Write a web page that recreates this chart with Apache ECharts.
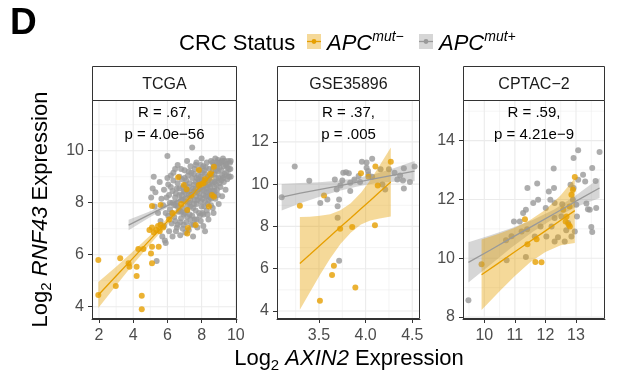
<!DOCTYPE html>
<html>
<head>
<meta charset="utf-8">
<script src="https://cdn.jsdelivr.net/npm/echarts@6/dist/echarts.min.js"></script>
<style>
html, body { margin: 0; padding: 0; background: #fff; }
#chart { width: 617px; height: 377px; }
</style>
</head>
<body>
<div id="chart"></div>
<script>
var panelNames = ["TCGA", "GSE35896", "CPTAC\u22122"];
var statR = ["R = .67,", "R = .37,", "R = .59,"];
var statP = ["p = 4.0e\u221256", "p = .005", "p = 4.21e\u22129"];

// breaks (major) and minor gridlines per panel
var tcgaXBreaks = [2, 4, 6, 8, 10], tcgaXMinor = [3, 5, 7, 9];
var tcgaYBreaks = [4, 6, 8, 10], tcgaYMinor = [5, 7, 9, 11];
var gseXBreaks = [3.5, 4.0, 4.5], gseXMinor = [3.25, 3.75, 4.25];
var gseYBreaks = [4, 6, 8, 10, 12], gseYMinor = [5, 7, 9, 11, 13];
var cptacXBreaks = [10, 11, 12, 13], cptacXMinor = [9.5, 10.5, 11.5, 12.5, 13.5];
var cptacYBreaks = [8, 10, 12, 14], cptacYMinor = [9, 11, 13, 15];

// APC mut- (orange) and APC mut+ (grey) points, [AXIN2, RNF43]
var tcgaNeg = [[1.96,5.8],[1.96,4.45],[3.24,5.86],[2.98,4.8],[3.73,5.67],[3.78,5.54],[4.2,5.54],[4.2,5.18],[4.3,6.22],[4.6,6.22],[4.5,4.42],[4.5,3.9],
  [5.04,6.05],[5.1,5.67],[5.1,6.31],[5.49,6.31],[4.95,6.95],[5.1,7.05],[5.2,6.85],[5.35,6.95],[5.45,7.1],[5.6,7.15],[5.55,6.9],[5.75,7.05],
  [5.1,7.87],[5.6,7.91],[6.63,8.98],[7.12,8.52],[6.96,8.68],[7.16,7.72],[8.43,7.85],[8.72,9.38],[8.72,8.23],[7.65,7.14],[7.16,6.82],
  [7.84,9.26],[7.84,8.68],[6.3,7.6],[6.8,7.95],[7.4,8.3],[7.95,8.7],[8.2,8.9],[6.1,7.35],[8.5,9.1],[8.1,8.75],[8.6,8.3],[7.2,7.03]];
var tcgaPos = [[5.05,8.2],[5.14,8.55],[5.2,9.0],[5.25,7.85],[5.3,8.4],[5.37,5.76],[5.45,7.6],
  [5.55,8.8],[5.6,7.3],[5.65,8.15],[5.7,6.7],[5.75,7.9],[5.8,8.5],[5.85,6.55],[5.9,6.45],[5.8,7.1],
  [6.0,9.8],[6.0,8.95],[6.05,7.5],[6.1,8.3],[6.1,6.9],[6.15,7.75],[6.2,9.05],[6.2,8.6],[6.25,7.2],[6.3,8.0],[6.3,6.7],[6.35,8.85],
  [6.4,7.45],[6.45,9.3],[6.45,8.2],[6.5,6.9],[6.5,7.9],[6.55,8.55],[6.6,7.15],[6.6,8.75],[6.65,7.65],[6.7,9.0],[6.7,8.3],[6.75,6.75],
  [6.8,7.4],[6.8,8.1],[6.85,8.9],[6.9,7.0],[6.9,7.8],[6.95,8.45],[7.0,9.25],[7.0,7.6],[7.05,8.7],[7.05,6.85],[7.1,8.2],[7.1,7.25],
  [7.2,9.05],[7.2,8.45],[7.2,7.9],[7.25,6.95],[7.3,8.75],[7.3,7.55],[7.35,9.4],[7.4,8.25],[7.4,7.15],[7.45,10.12],[7.45,8.95],[7.5,7.8],[7.5,8.55],[7.5,6.7],
  [7.6,9.3],[7.6,8.1],[7.6,7.35],[7.65,8.8],[7.7,9.55],[7.7,7.95],[7.75,8.4],[7.75,7.05],[7.8,9.05],[7.8,8.65],[7.85,7.6],
  [7.9,9.25],[7.9,8.2],[7.95,7.3],[8.0,9.7],[8.0,8.9],[8.0,7.85],[8.05,8.5],[8.1,9.4],[8.1,7.55],[8.15,8.75],[8.2,9.1],[8.2,8.05],[8.2,6.9],
  [8.3,9.55],[8.3,8.4],[8.3,7.7],[8.35,9.0],[8.4,8.85],[8.4,7.35],[8.45,9.3],[8.5,8.2],[8.5,8.6],[8.55,9.6],[8.55,7.9],
  [8.6,9.1],[8.65,8.45],[8.7,9.45],[8.7,7.6],[8.75,8.8],[8.8,9.7],[8.8,8.15],[8.85,9.25],[8.9,8.5],[8.9,9.55],
  [8.96,9.64],[9.0,8.95],[9.0,7.95],[9.05,9.35],[9.1,8.6],[9.15,9.55],[9.2,9.05],[9.2,8.25],[9.25,9.7],[9.3,8.8],
  [9.41,9.45],[9.4,8.5],[9.45,9.15],[9.5,8.9],[9.55,9.6],[9.6,9.3],[9.66,9.54],[9.7,9.0],[9.7,9.6],[9.68,9.3],
  [6.9,8.6],[7.3,8.0],[7.7,8.25],[8.1,8.3],[8.4,8.1],[7.45,7.5],[6.7,7.7],[7.9,8.55],[8.6,8.8],[8.25,8.65],[7.0,8.95],[6.55,8.0],
  [7.55,9.1],[8.05,7.6],[8.75,9.1],[7.65,7.7],[7.15,8.5],
  [7.25,8.6],[7.35,8.1],[7.55,8.45],[7.7,8.95],[7.85,8.35],[7.95,9.0],[8.05,8.15],[8.15,9.25],[8.25,8.85],[8.35,8.25],
  [8.45,8.7],[8.55,9.05],[8.65,9.3],[8.75,8.6],[8.85,8.95],[8.95,9.2],[9.05,8.75],[9.15,9.25],[9.25,8.95],[9.35,9.6],
  [7.1,8.85],[7.25,9.2],[7.4,9.15],[7.55,8.7],[7.65,9.45],[7.8,8.9],[7.95,9.45],[8.05,9.15],[8.15,8.45],[8.25,9.35],
  [8.35,8.55],[8.45,8.95],[8.55,8.35],[8.65,9.55],[8.75,8.45],[8.85,8.7],[8.95,8.3],[9.05,9.55],[9.15,8.85],[9.35,9.1],
  [6.85,8.3],[6.95,7.55],[7.05,8.05],[7.15,7.7],[7.25,8.3],[7.35,7.85],[7.45,8.4],[7.55,7.95],[7.65,8.55],[7.75,8.1],
  [7.85,8.8],[7.95,8.05],[8.05,8.85],[8.15,7.85],[8.25,8.25],[8.35,7.95],[8.45,8.45],[8.55,8.15],[8.65,7.8],[8.75,8.3],
  [6.3,8.45],[6.4,7.9],[6.5,8.35],[6.6,7.85],[6.7,8.55],[6.8,7.65],[6.9,8.1],[7.0,8.4],[6.25,7.6],[6.45,7.3],
  [6.55,7.05],[6.75,7.25],[6.95,7.15],[7.15,7.45],[7.35,7.35],[7.55,7.15],[7.7,7.35],[7.9,7.5],[8.1,7.1],[8.35,7.55],
  [5.95,8.2],[5.9,7.6],[6.15,8.0],[6.05,8.7],[6.35,9.15],[6.6,9.45],[6.8,9.3],[7.15,9.6],[9.45,9.5],[9.6,9.0],
  [9.5,9.35],[9.3,9.4],[9.2,9.6],[9.0,9.5],[8.9,9.35]];
var gseNeg = [[3.295,8.98],[3.554,9.46],[3.51,4.48],[3.64,5.7],[3.66,6.14],[3.727,7.89],[3.856,7.97],[3.89,5.11],[3.95,10.51],
  [4.03,10.35],[4.105,10.83],[4.1,8.06],[4.13,9.94],[4.27,11.06]];
var gsePos = [[3.1,9.38],[3.24,10.83],[3.396,10.16],[3.514,9.11],[3.59,9.27],[3.716,9.27],[3.7,8.95],[3.7,8.41],[3.716,6.38],[3.67,10.22],
  [3.69,9.75],[3.76,10.54],[3.79,10.56],[3.82,10.52],[3.835,10.06],[3.835,9.67],[3.88,10.22],[3.925,10.38],[3.96,11.06],[4.01,11.02],
  [4.01,10.78],[4.026,10.62],[4.03,10.46],[4.07,11.2],[4.07,10.35],[4.16,10.7],[4.18,9.98],[4.21,9.75],[4.25,10.7],[4.31,10.54],
  [4.34,10.22],[4.37,10.41],[4.4,10.17],[4.41,10.75],[4.41,9.79],[4.475,10.1],[4.525,10.83],[3.75,10.17],[3.73,9.94],[3.94,10.1]];
var cptacNeg = [[9.91,9.8],[11.33,11.33],[11.41,10.48],[11.71,10.65],[11.67,9.87],[11.87,9.86],[12.58,11.65],[12.69,11.42],[12.76,11.14],
  [12.8,11.08],[12.85,12.16],[12.9,12.33],[12.96,12.76],[12.79,11.76],[12.66,11.25]];
var cptacPos = [[9.48,8.57],[10.71,10.61],[10.89,10.75],[10.73,9.93],[11.16,11.25],[11.36,11.65],[11.41,12.39],[11.6,11.88],[11.73,12.54],
  [11.76,11.99],[11.84,11.08],[12.01,11.71],[12.11,12.27],[12.16,11.99],[12.27,13.05],[12.28,12.39],[12.3,11.88],[12.3,11.37],[12.3,10.57],
  [12.41,10.71],[12.52,11.42],[12.55,11.84],[12.63,10.57],[12.68,10.95],[12.74,11.2],[12.82,12.5],[12.85,10.74],[12.92,13.41],[12.92,12.39],
  [12.9,11.99],[12.96,10.91],[13.01,11.82],[13.07,13.67],[13.07,12.67],[13.03,11.42],[13.23,12.84],[13.3,12.61],[13.34,11.86],[13.39,11.67],
  [13.45,11.65],[13.53,13.07],[13.5,11.06],[13.53,10.89],[13.64,12.63],[13.77,13.61],[13.66,11.71],[11.65,10.74],[12.03,10.74],[12.2,11.08],
  [11.22,10.91],[11.4,10.99],[11.27,11.54],[10.97,11.25],[11.36,10.04]];

// linear fits with confidence band, [x, fit, lower, upper]
var tcgaFitNeg = [[1.96,4.45,3.95,4.95],[3,5.18,4.82,5.54],[4,5.88,5.63,6.13],[5,6.58,6.41,6.75],[6,7.28,7.16,7.40],[7,7.98,7.86,8.10],[8,8.68,8.50,8.86],[8.72,9.18,8.93,9.43]];
var tcgaFitPos = [[3.73,7.14,6.94,7.34],[5,7.56,7.45,7.67],[6.5,8.05,7.99,8.11],[8,8.54,8.48,8.60],[9.7,9.10,8.98,9.22]];
var gseFitNeg = [[3.295,6.25,4.06,8.44],[3.4,6.66,4.86,8.46],[3.51,7.10,5.70,8.50],[3.62,7.53,6.48,8.58],[3.73,7.97,7.17,8.77],
  [3.84,8.40,7.70,9.10],[3.95,8.84,8.09,9.59],[4.05,9.23,8.28,10.18],[4.15,9.63,8.38,10.88],[4.27,10.10,8.47,11.73]];
var gseFitPos = [[3.1,9.38,8.75,10.01],[3.3,9.57,9.09,10.05],[3.5,9.74,9.39,10.09],[3.7,9.91,9.66,10.16],[3.9,10.08,9.88,10.28],
  [4.1,10.26,10.04,10.48],[4.3,10.43,10.11,10.75],[4.525,10.62,10.14,11.10]];
var cptacFitNeg = [[9.91,9.44,8.24,10.64],[10.5,9.86,8.88,10.84],[11.0,10.22,9.40,11.04],[11.5,10.58,9.86,11.30],[12.0,10.93,10.21,11.65],
  [12.5,11.29,10.44,12.14],[12.96,11.62,10.52,12.72]];
var cptacFitPos = [[9.48,9.86,9.18,10.54],[10.2,10.28,9.78,10.78],[10.9,10.70,10.37,11.03],[11.6,11.11,10.91,11.31],[12.3,11.52,11.37,11.67],
  [13.0,11.94,11.74,12.14],[13.77,12.39,12.05,12.73]];

var chart = echarts.init(document.getElementById("chart"));
var orange = "#E69F00", grey = "#999999";
var fontFam = "Liberation Sans, Arial, sans-serif";
var plotTop = 100, plotH = 219, stripTop = 66.5;

var panels = [
  { left: 92, width: 145, x: [1.59, 10.07], y: [3.527, 11.95], xb: tcgaXBreaks, xm: tcgaXMinor, yb: tcgaYBreaks, ym: tcgaYMinor,
    neg: tcgaNeg, pos: tcgaPos, fitNeg: tcgaFitNeg, fitPos: tcgaFitPos, dec: 0 },
  { left: 277, width: 143, x: [3.05, 4.583], y: [3.62, 13.98], xb: gseXBreaks, xm: gseXMinor, yb: gseYBreaks, ym: gseYMinor,
    neg: gseNeg, pos: gsePos, fitNeg: gseFitNeg, fitPos: gseFitPos, dec: 1 },
  { left: 463, width: 142, x: [9.303, 13.948], y: [7.935, 15.38], xb: cptacXBreaks, xm: cptacXMinor, yb: cptacYBreaks, ym: cptacYMinor,
    neg: cptacNeg, pos: cptacPos, fitNeg: cptacFitNeg, fitPos: cptacFitPos, dec: 0 }
];

function renderGridLine(params, api) {
  var cs = params.coordSys;
  var v = api.value(0);
  var w = api.value(2) === 1 ? 1.1 : 0.55;
  var pt = api.coord([v, v]);
  var shape;
  if (api.value(1) === 1) {
    shape = { x1: pt[0], y1: cs.y, x2: pt[0], y2: cs.y + cs.height };
  } else {
    shape = { x1: cs.x, y1: pt[1], x2: cs.x + cs.width, y2: pt[1] };
  }
  return { type: "line", shape: shape, style: { stroke: "#EBEBEB", lineWidth: w } };
}

function bandRenderer(rows, color) {
  return function(params, api) {
    if (params.dataIndex !== 0) return null;
    var pts = [];
    for (var i = 0; i < rows.length; i++) pts.push(api.coord([rows[i][0], rows[i][3]]));
    for (var j = rows.length - 1; j >= 0; j--) pts.push(api.coord([rows[j][0], rows[j][2]]));
    return { type: "polygon", shape: { points: pts }, style: { fill: color, opacity: 0.4 } };
  };
}

var grids = [], xAxes = [], yAxes = [], series = [], graphics = [];

panels.forEach(function(p, i) {
  grids.push({ left: p.left, top: plotTop, width: p.width, height: plotH });
  var tickStyle = { show: true, length: 4, lineStyle: { color: "#333333", width: 1 } };
  xAxes.push({
    type: "value", gridIndex: i, min: p.x[0], max: p.x[1],
    splitLine: { show: false },
    axisLine: { show: true, onZero: false, lineStyle: { color: "#333333", width: 1 } },
    axisTick: Object.assign({ customValues: p.xb }, tickStyle),
    axisLabel: { customValues: p.xb, fontSize: 16, color: "#4D4D4D", fontFamily: fontFam, margin: 9,
      formatter: (function(d) { return function(v) { return v.toFixed(d); }; })(p.dec) }
  });
  yAxes.push({
    type: "value", gridIndex: i, min: p.y[0], max: p.y[1],
    splitLine: { show: false },
    axisLine: { show: true, onZero: false, lineStyle: { color: "#333333", width: 1 } },
    axisTick: Object.assign({ customValues: p.yb }, tickStyle),
    axisLabel: { customValues: p.yb, fontSize: 16, color: "#4D4D4D", fontFamily: fontFam, margin: 8,
      formatter: function(v) { return String(v); } }
  });

  var gridRows = [];
  p.xm.forEach(function(v) { gridRows.push([v, 1, 0]); });
  p.ym.forEach(function(v) { gridRows.push([v, 0, 0]); });
  p.xb.forEach(function(v) { gridRows.push([v, 1, 1]); });
  p.yb.forEach(function(v) { gridRows.push([v, 0, 1]); });
  series.push({ type: "custom", xAxisIndex: i, yAxisIndex: i, z: 1, silent: true, data: gridRows, renderItem: renderGridLine });

  series.push({ type: "scatter", xAxisIndex: i, yAxisIndex: i, z: 2, silent: true, data: p.pos,
    symbolSize: 6, itemStyle: { color: grey } });
  series.push({ type: "scatter", xAxisIndex: i, yAxisIndex: i, z: 2, silent: true, data: p.neg,
    symbolSize: 6, itemStyle: { color: orange } });

  series.push({ type: "custom", xAxisIndex: i, yAxisIndex: i, z: 3, silent: true, data: p.fitPos, renderItem: bandRenderer(p.fitPos, grey) });
  series.push({ type: "custom", xAxisIndex: i, yAxisIndex: i, z: 3, silent: true, data: p.fitNeg, renderItem: bandRenderer(p.fitNeg, orange) });

  series.push({ type: "line", xAxisIndex: i, yAxisIndex: i, z: 4, silent: true, showSymbol: false,
    data: p.fitPos.map(function(r) { return [r[0], r[1]]; }), lineStyle: { color: grey, width: 1.3 } });
  series.push({ type: "line", xAxisIndex: i, yAxisIndex: i, z: 4, silent: true, showSymbol: false,
    data: p.fitNeg.map(function(r) { return [r[0], r[1]]; }), lineStyle: { color: orange, width: 1.3 } });

  // panel border and strip
  graphics.push({ type: "rect", z: 100, shape: { x: p.left + 0.5, y: plotTop + 0.5, width: p.width - 1, height: plotH - 1 },
    style: { fill: "none", stroke: "#333333", lineWidth: 1 } });
  graphics.push({ type: "rect", z: 100, shape: { x: p.left + 0.5, y: stripTop, width: p.width - 1, height: plotTop - stripTop + 0.5 },
    style: { fill: "#FFFFFF", stroke: "#333333", lineWidth: 1 } });
  graphics.push({ type: "text", z: 101, x: p.left + p.width / 2, y: 84.5,
    style: { text: panelNames[i], font: "16px " + fontFam, fill: "#1A1A1A", align: "center", verticalAlign: "middle" } });
  graphics.push({ type: "text", z: 101, x: p.left + p.width / 2, y: 112.7,
    style: { text: statR[i], font: "15px " + fontFam, fill: "#000000", align: "center", verticalAlign: "middle" } });
  graphics.push({ type: "text", z: 101, x: p.left + p.width / 2, y: 135,
    style: { text: statP[i], font: "15px " + fontFam, fill: "#000000", align: "center", verticalAlign: "middle" } });
});

var titleRich = {
  n: { fontSize: 22, fontFamily: fontFam, lineHeight: 28, color: "#000" },
  i: { fontSize: 22, fontFamily: fontFam, fontStyle: "italic", lineHeight: 28, color: "#000" },
  s: { fontSize: 15, fontFamily: fontFam, lineHeight: 15, verticalAlign: "bottom", color: "#000" }
};
var legendRich = {
  a: { fontSize: 22, fontFamily: fontFam, fontStyle: "italic", lineHeight: 28, color: "#000" },
  s: { fontSize: 14, fontFamily: fontFam, fontStyle: "italic", lineHeight: 23, verticalAlign: "top", color: "#000" }
};

// panel letter
graphics.push({ type: "text", x: 10, y: 23.5,
  style: { text: "D", font: "bold 37px " + fontFam, fill: "#000", verticalAlign: "middle" } });

// legend
graphics.push({ type: "text", x: 179, y: 43.7,
  style: { text: "CRC Status", font: "22px " + fontFam, fill: "#000", verticalAlign: "middle" } });
[{ x: 307, color: orange, label: "{a|APC}{s|mut\u2212}" }, { x: 419, color: grey, label: "{a|APC}{s|mut+}" }].forEach(function(k) {
  graphics.push({ type: "rect", shape: { x: k.x, y: 34, width: 14, height: 15 }, style: { fill: k.color, opacity: 0.4 } });
  graphics.push({ type: "line", shape: { x1: k.x, y1: 41.5, x2: k.x + 14, y2: 41.5 }, style: { stroke: k.color, lineWidth: 1.3 } });
  graphics.push({ type: "circle", shape: { cx: k.x + 7, cy: 41.5, r: 2.4 }, style: { fill: k.color } });
  graphics.push({ type: "text", x: k.x + 20, y: 43.7,
    style: { text: k.label, rich: legendRich, verticalAlign: "middle" } });
});

// axis titles
graphics.push({ type: "text", x: 349, y: 359,
  style: { text: "{n|Log}{s|2}{n| }{i|AXIN2}{n| Expression}", rich: titleRich, align: "center", verticalAlign: "middle" } });
graphics.push({ type: "text", x: 40.7, y: 209.5, rotation: Math.PI / 2,
  style: { text: "{n|Log}{s|2}{n| }{i|RNF43}{n| Expression}", rich: titleRich, align: "center", verticalAlign: "middle" } });

chart.setOption({
  animation: false,
  backgroundColor: "#FFFFFF",
  grid: grids,
  xAxis: xAxes,
  yAxis: yAxes,
  series: series,
  graphic: graphics
});
</script>
</body>
</html>
